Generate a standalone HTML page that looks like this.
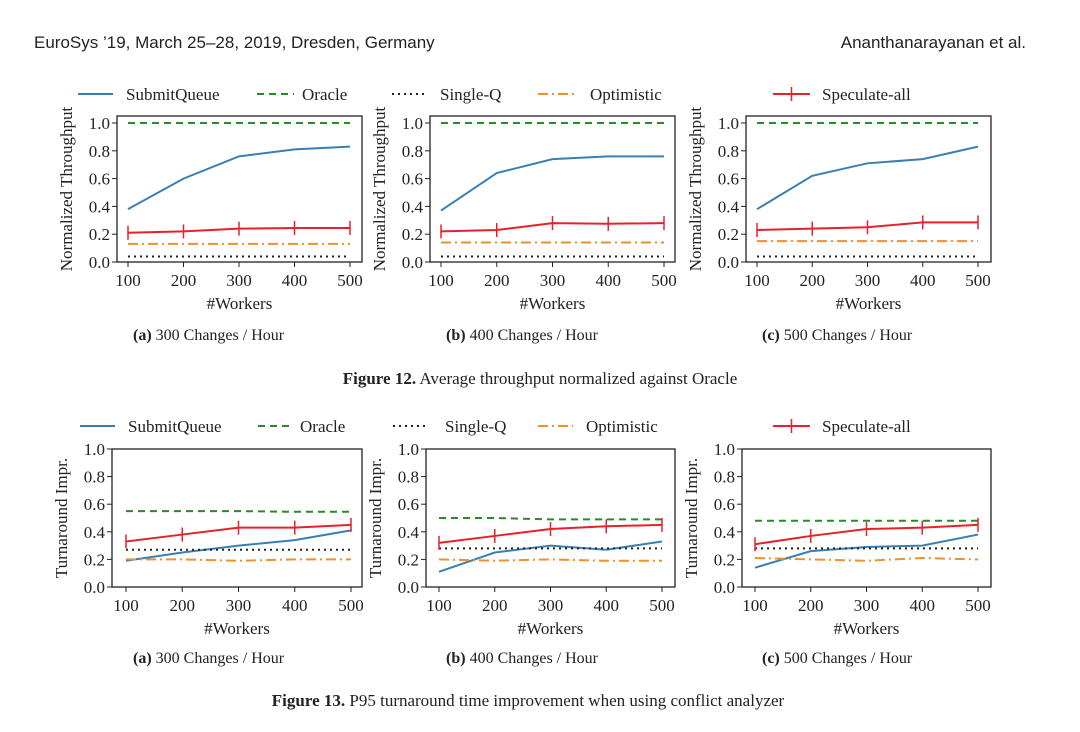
<!DOCTYPE html>
<html><head><meta charset="utf-8"><style>
body{margin:0;background:#fff;width:1080px;height:732px;overflow:hidden}
svg{display:block}
text{font-family:"Liberation Serif",serif;fill:#222}
.sans{font-family:"Liberation Sans",sans-serif}
</style></head><body>
<svg id="fig" width="1080" height="732">
<text class="sans" x="34" y="48" font-size="17">EuroSys ’19, March 25–28, 2019, Dresden, Germany</text>
<text class="sans" x="1026" y="48" font-size="17" text-anchor="end">Ananthanarayanan et al.</text>
<text x="133" y="340" font-size="16"><tspan font-weight="bold">(a)</tspan> 300 Changes / Hour</text>
<text x="446" y="340" font-size="16"><tspan font-weight="bold">(b)</tspan> 400 Changes / Hour</text>
<text x="762" y="340" font-size="16"><tspan font-weight="bold">(c)</tspan> 500 Changes / Hour</text>
<text x="540" y="384" font-size="17" text-anchor="middle"><tspan font-weight="bold">Figure 12.</tspan> Average throughput normalized against Oracle</text>
<text x="133" y="663" font-size="16"><tspan font-weight="bold">(a)</tspan> 300 Changes / Hour</text>
<text x="446" y="663" font-size="16"><tspan font-weight="bold">(b)</tspan> 400 Changes / Hour</text>
<text x="762" y="663" font-size="16"><tspan font-weight="bold">(c)</tspan> 500 Changes / Hour</text>
<text x="528" y="706" font-size="17" text-anchor="middle"><tspan font-weight="bold">Figure 13.</tspan> P95 turnaround time improvement when using conflict analyzer</text>
</svg>
<script>
const workers=[100,200,300,400,500];
const yTicks=[0,0.2,0.4,0.6,0.8,1.0];
const seriesNames=["SubmitQueue","Oracle","Single-Q","Optimistic","Speculate-all"];
// Figure 12
const t12aSQ=[0.38,0.60,0.76,0.81,0.83], t12aOr=[1,1,1,1,1], t12aSG=[0.04,0.04,0.04,0.04,0.04], t12aOp=[0.13,0.13,0.13,0.13,0.13], t12aSp=[0.21,0.22,0.24,0.245,0.245];
const t12bSQ=[0.37,0.64,0.74,0.76,0.76], t12bOr=[1,1,1,1,1], t12bSG=[0.04,0.04,0.04,0.04,0.04], t12bOp=[0.14,0.14,0.14,0.14,0.14], t12bSp=[0.22,0.23,0.28,0.275,0.28];
const t12cSQ=[0.38,0.62,0.71,0.74,0.83], t12cOr=[1,1,1,1,1], t12cSG=[0.04,0.04,0.04,0.04,0.04], t12cOp=[0.15,0.15,0.15,0.15,0.15], t12cSp=[0.23,0.24,0.25,0.285,0.285];
// Figure 13
const t13aSQ=[0.19,0.25,0.30,0.34,0.41], t13aOr=[0.55,0.55,0.55,0.545,0.545], t13aSG=[0.27,0.27,0.27,0.27,0.27], t13aOp=[0.20,0.20,0.19,0.20,0.20], t13aSp=[0.33,0.38,0.43,0.43,0.45];
const t13bSQ=[0.11,0.25,0.30,0.27,0.33], t13bOr=[0.50,0.50,0.49,0.49,0.49], t13bSG=[0.28,0.28,0.28,0.28,0.28], t13bOp=[0.20,0.19,0.20,0.19,0.19], t13bSp=[0.32,0.37,0.42,0.44,0.45];
const t13cSQ=[0.14,0.26,0.29,0.30,0.38], t13cOr=[0.48,0.48,0.48,0.48,0.48], t13cSG=[0.28,0.28,0.28,0.28,0.28], t13cOp=[0.21,0.20,0.19,0.21,0.20], t13cSp=[0.31,0.37,0.42,0.43,0.45];

const NS="http://www.w3.org/2000/svg";
const svg=document.getElementById('fig');
function el(tag,attrs,parent){const e=document.createElementNS(NS,tag);for(const k in attrs)e.setAttribute(k,attrs[k]);(parent||svg).appendChild(e);return e;}
const styles=[
 {stroke:"#3a7fb4",w:2,dash:""},
 {stroke:"#2a8a2a",w:2,dash:"7,5"},
 {stroke:"#222",w:2,dash:"2,4"},
 {stroke:"#f0902a",w:2,dash:"10,4,2,4"},
 {stroke:"#e8202a",w:2,dash:""}];

function panel(name,box,x100,x500,y0,y1,ylabel,data){
  const g=el('g',{});
  
  
  const sx=v=>x100+(v-100)*(x500-x100)/400;
  const sy=v=>y0-(v)*(y0-y1);
  const fr=el('rect',{x:box[0],y:box[1],width:box[2]-box[0],height:box[3]-box[1],fill:"none",stroke:"#222","stroke-width":1.3},g);
  
  
  yTicks.forEach(t=>{const y=sy(t);
    el('line',{x1:box[0]-5,x2:box[0],y1:y,y2:y,stroke:"#222"},g);
    const tx=el('text',{x:box[0]-7,y:y+6,"font-size":17,"text-anchor":"end"},g);tx.textContent=t.toFixed(1);
    
    });
  workers.forEach(w=>{const x=sx(w);
    el('line',{x1:x,x2:x,y1:box[3],y2:box[3]+5,stroke:"#222"},g);
    const tx=el('text',{x:x,y:box[3]+24,"font-size":17,"text-anchor":"middle"},g);tx.textContent=w;
    
    });
  const xl=el('text',{x:(box[0]+box[2])/2,y:box[3]+47,"font-size":17,"text-anchor":"middle"},g);xl.textContent="#Workers";
  
  
  const cy=(box[1]+box[3])/2, cx=box[0]-45;
  const yl=el('text',{x:cx,y:cy,"font-size":17,"text-anchor":"middle",transform:`rotate(-90 ${cx} ${cy})`},g);yl.textContent=ylabel;
  
  
  data.forEach((arr,i)=>{const s=styles[i];
    const pts=arr.map((v,j)=>sx(workers[j])+","+sy(v)).join(" ");
    const p=el('polyline',{points:pts,fill:"none",stroke:s.stroke,"stroke-width":s.w,"stroke-dasharray":s.dash},g);
    
    
    if(i===4)arr.forEach((v,j)=>{const x=sx(workers[j]),y=sy(v);
      const e=el('line',{x1:x,x2:x,y1:y-7,y2:y+7,stroke:s.stroke,"stroke-width":1.5},g);
      
      });
  });
}
function legend(y,items){
  items.forEach((it,i)=>{const s=styles[i];
    const l=el('line',{x1:it[0],x2:it[1],y1:y,y2:y,stroke:s.stroke,"stroke-width":2,"stroke-dasharray":s.dash});
    
    
    if(i===4){el('line',{x1:(it[0]+it[1])/2,x2:(it[0]+it[1])/2,y1:y-7,y2:y+7,stroke:s.stroke,"stroke-width":1.5});}
    const t=el('text',{x:it[2],y:y+6,"font-size":17});t.textContent=seriesNames[i];
    
    });
}
legend(94,[[78,113,126],[257,294,302],[392,427,440],[538,575,590],[773,810,822]]);
legend(426,[[80,115,128],[258,290,300],[393,428,445],[538,573,586],[773,810,822]]);
panel('throughput-300',[117,116,362,262],128,350,262,123,"Normalized Throughput",[t12aSQ,t12aOr,t12aSG,t12aOp,t12aSp]);
panel('throughput-400',[430,116,675,262],441,664,262,123,"Normalized Throughput",[t12bSQ,t12bOr,t12bSG,t12bOp,t12bSp]);
panel('throughput-500',[746,116,991,262],757,978,262,123,"Normalized Throughput",[t12cSQ,t12cOr,t12cSG,t12cOp,t12cSp]);
panel('turnaround-300',[112,449,362,587],126,351,587,449,"Turnaround Impr.",[t13aSQ,t13aOr,t13aSG,t13aOp,t13aSp]);
panel('turnaround-400',[426,449,675,587],439,662,587,449,"Turnaround Impr.",[t13bSQ,t13bOr,t13bSG,t13bOp,t13bSp]);
panel('turnaround-500',[742,449,991,587],755,978,587,449,"Turnaround Impr.",[t13cSQ,t13cOr,t13cSG,t13cOp,t13cSp]);
</script>
</body></html>
